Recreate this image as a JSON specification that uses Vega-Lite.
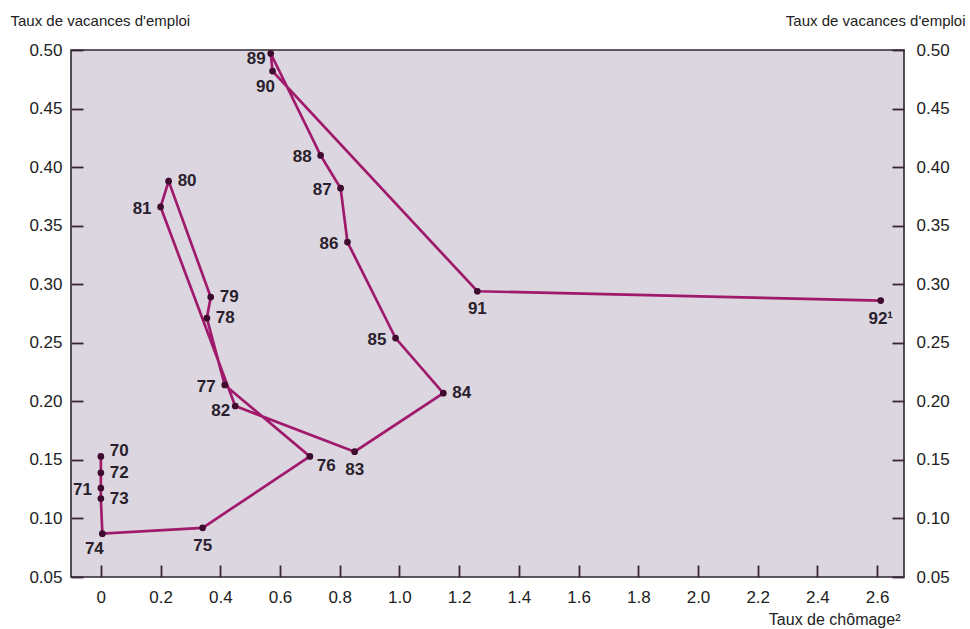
{
  "$schema": "https://vega.github.io/schema/vega-lite/v6.json",
  "width": 833,
  "height": 527,
  "autosize": "none",
  "padding": {"left": 71, "top": 50, "right": 66, "bottom": 52},
  "background": "#ffffff",
  "config": {
    "font": "Liberation Sans",
    "view": {"fill": "#dcd6e1", "stroke": "#2e2630", "strokeWidth": 1.6},
    "axis": {
      "grid": false,
      "domain": false,
      "zindex": 1,
      "tickSize": -12,
      "tickWidth": 1.8,
      "tickColor": "#3a2535",
      "labelFont": "Liberation Sans",
      "labelFontSize": 17,
      "labelColor": "#222222",
      "titleFont": "Liberation Sans",
      "titleFontSize": 15,
      "titleFontWeight": "normal",
      "titleColor": "#222222",
      "titleLimit": 400
    }
  },
  "data": {
    "values": [
      {"year": 1970, "label": "70", "u": 0.0, "v": 0.153},
      {"year": 1971, "label": "71", "u": 0.0, "v": 0.126},
      {"year": 1972, "label": "72", "u": 0.0, "v": 0.139},
      {"year": 1973, "label": "73", "u": 0.0, "v": 0.117},
      {"year": 1974, "label": "74", "u": 0.005, "v": 0.087},
      {"year": 1975, "label": "75", "u": 0.341, "v": 0.092},
      {"year": 1976, "label": "76", "u": 0.70, "v": 0.153},
      {"year": 1977, "label": "77", "u": 0.415, "v": 0.214},
      {"year": 1978, "label": "78", "u": 0.355, "v": 0.271},
      {"year": 1979, "label": "79", "u": 0.368, "v": 0.289},
      {"year": 1980, "label": "80", "u": 0.227, "v": 0.388},
      {"year": 1981, "label": "81", "u": 0.20, "v": 0.366},
      {"year": 1982, "label": "82", "u": 0.45, "v": 0.196},
      {"year": 1983, "label": "83", "u": 0.85, "v": 0.157},
      {"year": 1984, "label": "84", "u": 1.147, "v": 0.207},
      {"year": 1985, "label": "85", "u": 0.987, "v": 0.254},
      {"year": 1986, "label": "86", "u": 0.826, "v": 0.336},
      {"year": 1987, "label": "87", "u": 0.803, "v": 0.382},
      {"year": 1988, "label": "88", "u": 0.736, "v": 0.410},
      {"year": 1989, "label": "89", "u": 0.569, "v": 0.497},
      {"year": 1990, "label": "90", "u": 0.575, "v": 0.482},
      {"year": 1991, "label": "91", "u": 1.261, "v": 0.294},
      {"year": 1992, "label": "92¹", "u": 2.612, "v": 0.286}
    ]
  },
  "resolve": {"scale": {"y": "shared"}, "axis": {"y": "independent"}},
  "encoding": {
    "x": {
      "field": "u",
      "type": "quantitative",
      "scale": {"domain": [-0.1, 2.69], "nice": false, "zero": false},
      "axis": {
        "values": [0, 0.2, 0.4, 0.6, 0.8, 1.0, 1.2, 1.4, 1.6, 1.8, 2.0, 2.2, 2.4, 2.6],
        "labelExpr": "datum.value == 0 ? '0' : format(datum.value, '.1f')",
        "labelPadding": 24,
        "title": "Taux de chômage²",
        "titleFontSize": 16,
        "titleX": 829,
        "titleY": 42,
        "titleAlign": "right",
        "titleBaseline": "middle"
      }
    }
  },
  "layer": [
    {
      "mark": {"type": "line", "color": "#a01a6c", "strokeWidth": 2.7},
      "encoding": {
        "order": {"field": "year", "type": "quantitative"},
        "y": {
          "field": "v",
          "type": "quantitative",
          "scale": {"domain": [0.05, 0.5], "nice": false, "zero": false},
          "axis": {
            "orient": "left",
            "values": [0.05, 0.1, 0.15, 0.2, 0.25, 0.3, 0.35, 0.4, 0.45, 0.5],
            "format": ".2f",
            "labelPadding": 21,
            "title": "Taux de vacances d'emploi",
            "titleAngle": 0,
            "titleX": -61,
            "titleY": -30,
            "titleAlign": "left",
            "titleBaseline": "middle"
          }
        }
      }
    },
    {
      "mark": {"type": "rule", "opacity": 0},
      "encoding": {
        "y": {
          "field": "v",
          "type": "quantitative",
          "scale": {"domain": [0.05, 0.5], "nice": false, "zero": false},
          "axis": {
            "orient": "right",
            "values": [0.05, 0.1, 0.15, 0.2, 0.25, 0.3, 0.35, 0.4, 0.45, 0.5],
            "format": ".2f",
            "labelPadding": 24,
            "title": "Taux de vacances d'emploi",
            "titleAngle": 0,
            "titleX": 61,
            "titleY": -30,
            "titleAlign": "right",
            "titleBaseline": "middle"
          }
        }
      }
    },
    {
      "mark": {"type": "circle", "color": "#3e0b2e", "opacity": 1, "size": 45},
      "encoding": {"y": {"field": "v", "type": "quantitative", "axis": null}}
    },
    {
      "transform": [{"filter": {"field": "label", "oneOf": ["72", "73", "78", "79", "80", "84"]}}],
      "mark": {"type": "text", "align": "left", "baseline": "middle", "dx": 9, "fontSize": 17, "fontWeight": "bold", "color": "#2a1f2c"},
      "encoding": {"text": {"field": "label"}, "y": {"field": "v", "type": "quantitative", "axis": null}}
    },
    {
      "transform": [{"filter": {"field": "label", "oneOf": ["70"]}}],
      "mark": {"type": "text", "align": "left", "baseline": "middle", "dx": 9, "dy": -5, "fontSize": 17, "fontWeight": "bold", "color": "#2a1f2c"},
      "encoding": {"text": {"field": "label"}, "y": {"field": "v", "type": "quantitative", "axis": null}}
    },
    {
      "transform": [{"filter": {"field": "label", "oneOf": ["76"]}}],
      "mark": {"type": "text", "align": "left", "baseline": "middle", "dx": 7, "dy": 10, "fontSize": 17, "fontWeight": "bold", "color": "#2a1f2c"},
      "encoding": {"text": {"field": "label"}, "y": {"field": "v", "type": "quantitative", "axis": null}}
    },
    {
      "transform": [{"filter": {"field": "label", "oneOf": ["71", "77", "81", "85", "86", "87", "88"]}}],
      "mark": {"type": "text", "align": "right", "baseline": "middle", "dx": -9, "dy": 2, "fontSize": 17, "fontWeight": "bold", "color": "#2a1f2c"},
      "encoding": {"text": {"field": "label"}, "y": {"field": "v", "type": "quantitative", "axis": null}}
    },
    {
      "transform": [{"filter": {"field": "label", "oneOf": ["82", "89"]}}],
      "mark": {"type": "text", "align": "right", "baseline": "middle", "dx": -5, "dy": 5, "fontSize": 17, "fontWeight": "bold", "color": "#2a1f2c"},
      "encoding": {"text": {"field": "label"}, "y": {"field": "v", "type": "quantitative", "axis": null}}
    },
    {
      "transform": [{"filter": {"field": "label", "oneOf": ["90"]}}],
      "mark": {"type": "text", "align": "center", "baseline": "middle", "dx": -7, "dy": 16, "fontSize": 17, "fontWeight": "bold", "color": "#2a1f2c"},
      "encoding": {"text": {"field": "label"}, "y": {"field": "v", "type": "quantitative", "axis": null}}
    },
    {
      "transform": [{"filter": {"field": "label", "oneOf": ["74"]}}],
      "mark": {"type": "text", "align": "center", "baseline": "middle", "dx": -8, "dy": 15, "fontSize": 17, "fontWeight": "bold", "color": "#2a1f2c"},
      "encoding": {"text": {"field": "label"}, "y": {"field": "v", "type": "quantitative", "axis": null}}
    },
    {
      "transform": [{"filter": {"field": "label", "oneOf": ["75", "83", "91", "92¹"]}}],
      "mark": {"type": "text", "align": "center", "baseline": "middle", "dy": 18, "fontSize": 17, "fontWeight": "bold", "color": "#2a1f2c"},
      "encoding": {"text": {"field": "label"}, "y": {"field": "v", "type": "quantitative", "axis": null}}
    }
  ]
}
